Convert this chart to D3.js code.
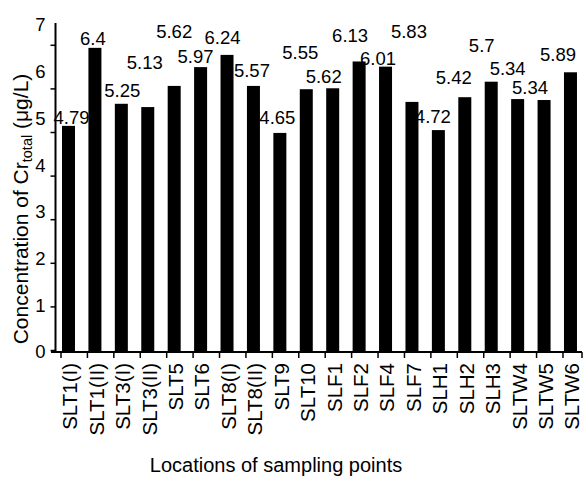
<!DOCTYPE html>
<html>
<head>
<meta charset="utf-8">
<script src="https://cdn.jsdelivr.net/npm/d3@7"></script>
<style>
  html, body { margin: 0; padding: 0; background: #fff; }
  svg { display: block; font-family: "Liberation Sans", Arial, Helvetica, sans-serif; }
</style>
</head>
<body>
<svg id="chart" width="585" height="479"></svg>
<script>
// ---- data ----
const categories = ["SLT1(I)","SLT1(II)","SLT3(I)","SLT3(II)","SLT5","SLT6","SLT8(I)","SLT8(II)","SLT9","SLT10",
                    "SLF1","SLF2","SLF4","SLF7","SLH1","SLH2","SLH3","SLTW4","SLTW5","SLTW6"];
// bar heights as drawn in the figure (µg/L)
const barValues = [4.79, 6.45, 5.26, 5.19, 5.64, 6.04, 6.30, 5.64, 4.64, 5.57,
                   5.59, 6.16, 6.05, 5.30, 4.70, 5.40, 5.73, 5.36, 5.34, 5.93];
// value labels printed above the bars
const labelValues = ["4.79","6.4","5.25","5.13","5.62","5.97","6.24","5.57","4.65","5.55",
                     "5.62","6.13","6.01","5.83","4.72","5.42","5.7","5.34","5.34","5.89"];
const yTicks = [0, 1, 2, 3, 4, 5, 6, 7];

// ---- layout (label nudges relative to bar: [dx, dy] in px) ----
const labelNudge = [[3,-9],[-2,-10],[1,-13],[-3,-45],[0,-55],[-5,-11],[-4.5,-18],[-1.5,-16],[-2.5,-16],[-6,-37],
                    [-9,-12],[-9,-26],[-7.5,-8],[-3,-71],[-5.5,-14],[-11,-20],[-9.5,-36],[-10,-31],[-14,-13],[-12.5,-18]];

const svg = d3.select("#chart");
const axisX0 = 55.5, baseY = 352;

const x = d3.scaleBand().domain(categories).range([61, 61 + 20 * 26.42]).padding(0);
const y = d3.scaleLinear().domain([0, 7]).range([351, 22]);          // bars
const yLab = d3.scaleLinear().domain([0, 7]).range([352, 25]);       // tick labels
const yTickPos = d3.scaleLinear().domain([0, 7.5]).range([350, 23]); // tick marks
const barW = 13;

// bars
svg.append("g").selectAll("rect")
  .data(categories)
  .join("rect")
  .attr("x", d => x(d) + 1)
  .attr("width", barW)
  .attr("y", (d, i) => y(barValues[i]))
  .attr("height", (d, i) => y(0) - y(barValues[i]))
  .attr("fill", "#000");

// y axis tick marks
const gTicks = svg.append("g").attr("transform", `translate(${axisX0},0)`)
  .call(d3.axisLeft(yTickPos).tickValues(yTicks).tickSize(5).tickFormat(""));
gTicks.select(".domain").remove();
gTicks.selectAll("line").attr("stroke", "#000").attr("stroke-width", 1.5);

// y axis labels
const gLab = svg.append("g").attr("transform", `translate(${axisX0},0)`)
  .call(d3.axisLeft(yLab).tickValues(yTicks).tickSize(0).tickPadding(10).tickFormat(d3.format("d")));
gLab.select(".domain").remove();
gLab.selectAll("text").attr("font-size", 18.5).attr("font-family", "Liberation Sans, Arial, sans-serif").attr("fill", "#000");

// y axis line
svg.append("line").attr("x1", axisX0).attr("x2", axisX0).attr("y1", 23).attr("y2", baseY)
  .attr("stroke", "#000").attr("stroke-width", 2);

// x axis line and ticks
const xEnd = 582;
svg.append("line").attr("x1", 51).attr("x2", xEnd).attr("y1", baseY).attr("y2", baseY)
  .attr("stroke", "#000").attr("stroke-width", 2);
const tickXs = categories.map(c => x(c)).concat([xEnd]);
svg.append("g").selectAll("line").data(tickXs).join("line")
  .attr("x1", d => d).attr("x2", d => d).attr("y1", baseY).attr("y2", baseY + 6)
  .attr("stroke", "#000").attr("stroke-width", 1.5);

// x labels
svg.append("g").selectAll("text").data(categories).join("text")
  .attr("transform", d => `translate(${x(d) + 1 + barW / 2 + 1.5},363) rotate(-90)`)
  .attr("text-anchor", "end")
  .attr("dy", "0.36em")
  .attr("font-size", 20.5)
  .attr("fill", "#000")
  .text(d => d);

// value labels
svg.append("g").selectAll("text").data(categories).join("text")
  .attr("x", (d, i) => x(d) + 1 + barW / 2 + labelNudge[i][0])
  .attr("y", (d, i) => y(barValues[i]) + labelNudge[i][1])
  .attr("dy", "0.36em")
  .attr("text-anchor", "middle")
  .attr("font-size", 18.5)
  .attr("fill", "#000")
  .text((d, i) => labelValues[i]);

// y title
const yt = svg.append("text")
  .attr("transform", "translate(20.5,209) rotate(-90)")
  .attr("text-anchor", "middle")
  .attr("dy", "0.36em")
  .attr("font-size", 21)
  .attr("fill", "#000");
yt.append("tspan").text("Concentration of Cr");
yt.append("tspan").attr("font-size", 14.5).attr("dy", 4).text("total");
yt.append("tspan").attr("dy", -4).text(" (\u03BCg/L)");

// x title
svg.append("text")
  .attr("x", 276).attr("y", 472)
  .attr("text-anchor", "middle")
  .attr("font-size", 20)
  .attr("fill", "#000")
  .text("Locations of sampling points");
</script>
</body>
</html>
